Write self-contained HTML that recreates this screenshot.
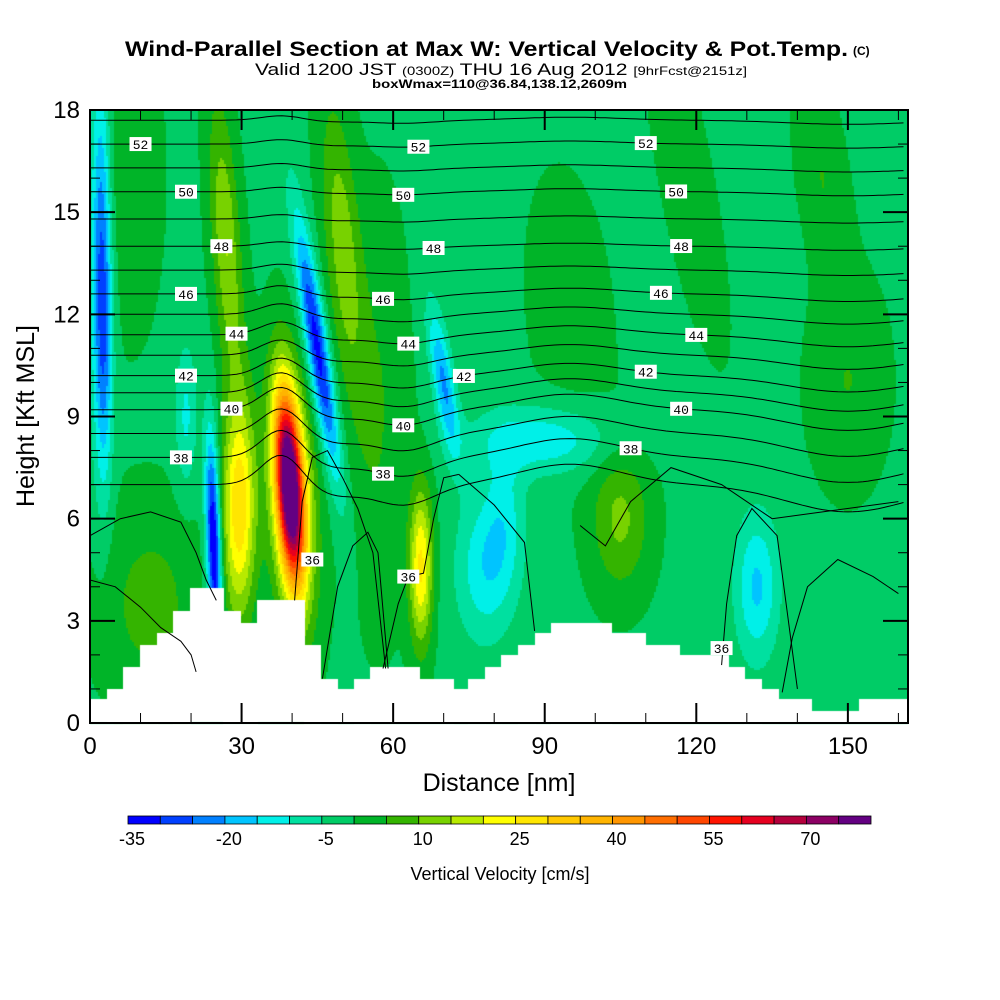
<!DOCTYPE html>
<html><head><meta charset="utf-8">
<style>
html,body{margin:0;padding:0;background:#fff;}
#wrap{position:relative;width:1000px;height:1000px;overflow:hidden;font-family:"Liberation Sans",sans-serif;}
canvas{position:absolute;left:0;top:0;}
svg{position:absolute;left:0;top:0;}
</style></head>
<body>
<div id="wrap">
<canvas id="field" width="1000" height="1000"></canvas>
<svg id="ov" width="1000" height="1000"></svg>
</div>
<script>
// ---- data ----
const levelBounds = [-35,-30,-25,-20,-15,-10,-5,0,5,10,15,20,25,30,35,40,45,50,55,60,65,70,75,80];
const levelColors = ["#0000ff","#0040ff","#0080ff","#00c4ff","#00f0e8","#00e0a0","#00cc66","#00b428","#34b400","#78d200","#b8ea00","#ffff00","#ffe600","#ffc800","#ffb400","#ff9600","#ff6e00","#ff4600","#ff1400","#e60020","#b4003c","#8c0064","#640082"];
const cbLabels = [-35,-20,-5,10,25,40,55,70];
const xTicks = [0,30,60,90,120,150];
const yTicks = [0,3,6,9,12,15,18];
const terrX = [0,3.3,6.6,9.9,13.2,16.5,19.8,26.4,29.7,33,42.3,45.6,48.9,52.2,55.5,65.2,71.8,74.8,78.1,81.4,84.7,88,91.3,103.2,109.8,116.5,126.2,129.5,132.8,136.1,142.7,152.2];
const terrH = [0.7,1.0,1.65,2.3,2.65,3.3,3.95,3.3,2.95,3.6,2.3,1.3,1.0,1.3,1.65,1.3,1.0,1.3,1.65,2.0,2.3,2.65,2.95,2.65,2.3,2.0,1.65,1.3,1.0,0.7,0.35,0.7];
const blobX   = [39.5,40,29.5,65.5,24.5,45,70,2,27,50,90,132,105,12,118,57,78,19,150,8,95,3,82,145];
const blobY   = [7.0,6.5,6.3,4.6,5.2,11,10,14,14,14,8.3,4,6,3.5,16,9,4.5,9,10,16,12,11,6,16];
const blobSX  = [1.8,3.2,2.3,1.6,1.0,1.5,1.5,1.3,2,2.5,10,3,4,7,3,4,4,1.5,5,4,6,1.2,3,3];
const blobSY  = [1.9,2.6,2.2,1.6,2.2,2.6,1.5,4,3,3,0.7,1.5,1.5,2,3,4,1.5,1.5,2,3,3,3,1.5,2];
const blobAmp = [75,25,30,27,-38,-32,-20,-20,16,14,-13,-15,12,8,6,6,-12,-10,6,5,3,-14,-9,6];
const blobTilt= [-0.4,-0.3,0,0,-0.2,-1.0,-1,0,-0.4,-0.5,0,0,0,0,-1.2,0,0,0,0,0,-0.5,0,0,-0.8];
const thetaLevels = [37,38,39,40,41,42,43,44,45,46,47,48,49,50,51,52,53];
const thetaH0     = [7.0,7.8,8.5,9.2,9.7,10.2,10.8,11.4,12.0,12.6,13.3,14.0,14.8,15.6,16.3,17.0,17.7];
const bumpX = [38,62,95,150,48];
const bumpW = [4,6,10,12,5];
const bumpA = [0.9,-0.6,0.6,-0.8,-0.3];
const c36aX=[0,5,10,14,18,20,21];    const c36aY=[4.2,4.0,3.4,2.8,2.4,2.0,1.5];
const c36bX=[0,6,12,18,21,23,25];    const c36bY=[5.5,6.0,6.2,5.9,5.0,4.2,3.6];
const c36cX=[40.5,42,44,47,50,53,56,58.5]; const c36cY=[3.6,6.5,7.8,8.0,7.2,6.3,5.0,1.6];
const c36dX=[46,49,52,55,57,59];     const c36dY=[1.3,4.0,5.2,5.6,5.0,1.6];
const c36eX=[58,61,63,66,68,70,73];  const c36eY=[1.6,3.5,4.3,4.4,6.0,7.2,7.3];
const c36fX=[73,80,86,88];           const c36fY=[7.3,6.4,5.3,2.7];
const c36gX=[97,102,107,115,125,135,145,160]; const c36gY=[5.8,5.2,6.5,7.5,7.0,6.0,6.2,6.5];
const c36hX=[125,126,128,131,136,140];const c36hY=[1.7,3.5,5.5,6.3,5.5,1.0];
const c36iX=[137,139,142,148,155,160];const c36iY=[0.9,2.5,4.0,4.8,4.3,3.8];
const labelLevels=[52,50,48,46,42,38,44,40,52,50,48,46,44,42,40,38,52,50,48,46,44,42,40,38];
const labelXs=[10,19,26,19,19,18,29,28,65,62,68,58,63,74,62,58,110,116,117,113,120,110,117,107];
// ---- scales ----
const PL=90,PR=908,PT=110,PB=723,XMAX=161.9,YMAX=18;
const sx=v=>PL+v/XMAX*(PR-PL);
const sy=v=>PB-v/YMAX*(PB-PT);
const ix=p=>(p-PL)/(PR-PL)*XMAX;
const iy=p=>(PB-p)/(PB-PT)*YMAX;
function colIdx(v){let i=Math.floor((v+35)/5);return Math.max(0,Math.min(levelColors.length-1,i));}
function field(x,y){let v=-1;for(let i=0;i<blobX.length;i++){const cx=blobX[i]+blobTilt[i]*(y-blobY[i]);const dx=(x-cx)/blobSX[i],dy=(y-blobY[i])/blobSY[i];v+=blobAmp[i]*Math.exp(-0.5*(dx*dx+dy*dy));}return v;}
const ctx=document.getElementById('field').getContext('2d');
const cs=2;
for(let px=PL;px<PR;px+=cs){for(let py=PT;py<PB;py+=cs){ctx.fillStyle=levelColors[colIdx(field(ix(px+1),iy(py+1)))];ctx.fillRect(px,py,cs,cs);}}
ctx.fillStyle="#fff";
for(let i=0;i<terrX.length;i++){const x0=sx(terrX[i]),x1=i+1<terrX.length?sx(terrX[i+1]):PR;const y0=sy(terrH[i]);ctx.fillRect(Math.round(x0),Math.round(y0),Math.round(x1)-Math.round(x0)+1,PB-y0);}
// ---- svg ----
const NS="http://www.w3.org/2000/svg";const svg=document.getElementById('ov');
function mk(t,a,p){const e=document.createElementNS(NS,t);for(const k in a)e.setAttribute(k,a[k]);(p||svg).appendChild(e);return e;}
function thetaH(k,x){const lv=thetaLevels[k];const f=Math.max(0.15,1.0-(lv-37)*0.08);let h=thetaH0[k];for(let j=0;j<bumpX.length;j++){const d=(x-bumpX[j])/bumpW[j];h+=f*bumpA[j]*Math.exp(-0.5*d*d);}return h;}
function terrAt(x){let h=0;for(let i=0;i<terrX.length;i++)if(x>=terrX[i])h=terrH[i];return h;}
const cg=mk('g',{});


for(let k=0;k<thetaLevels.length;k++){let pts=[];for(let x=0;x<=XMAX;x+=1){const h=thetaH(k,x);if(h<=YMAX&&h>terrAt(x))pts.push(sx(x).toFixed(1)+","+sy(h).toFixed(1));}
 const pl=mk('polyline',{points:pts.join(' '),fill:'none',stroke:'#000','stroke-width':1},cg);
 
 }
[[c36aX,c36aY],[c36bX,c36bY],[c36cX,c36cY],[c36dX,c36dY],[c36eX,c36eY],[c36fX,c36fY],[c36gX,c36gY],[c36hX,c36hY],[c36iX,c36iY]].forEach((c,i)=>{
 const pl=mk('polyline',{points:c[0].map((x,j)=>sx(x).toFixed(1)+","+sy(c[1][j]).toFixed(1)).join(' '),fill:'none',stroke:'#000','stroke-width':1},cg);
 
 });
for(let i=0;i<labelLevels.length;i++){const k=thetaLevels.indexOf(labelLevels[i]);const x=sx(labelXs[i]),y=sy(thetaH(k,labelXs[i]));
 const g=mk('g',{});
 
 
 mk('rect',{x:x-11,y:y-7,width:22,height:14,fill:'#fff'},g);
 const t=mk('text',{x:x,y:y+5,'text-anchor':'middle','font-size':13,'font-family':'Liberation Mono, monospace'},g);t.textContent=labelLevels[i];}
const l36X=[44,63,125],l36Y=[4.8,4.3,2.2];
for(let i=0;i<l36X.length;i++){const g=mk('g',{});
 
 
 mk('rect',{x:sx(l36X[i])-11,y:sy(l36Y[i])-7,width:22,height:14,fill:'#fff'},g);
 const t=mk('text',{x:sx(l36X[i]),y:sy(l36Y[i])+5,'text-anchor':'middle','font-size':13,'font-family':'Liberation Mono, monospace'},g);t.textContent='36';}
const fr=mk('rect',{x:PL,y:PT,width:PR-PL,height:PB-PT,fill:'none',stroke:'#000','stroke-width':2});

for(let v=0;v<=160;v+=10){const L=v%30==0?20:10;const x=sx(v);mk('line',{x1:x,x2:x,y1:PB,y2:PB-L,stroke:'#000','stroke-width':v%30==0?2:1});mk('line',{x1:x,x2:x,y1:PT,y2:PT+L,stroke:'#000','stroke-width':v%30==0?2:1});}
for(let v=0;v<=18;v+=1){const L=v%3==0?25:10;const y=sy(v);mk('line',{x1:PL,x2:PL+L,y1:y,y2:y,stroke:'#000','stroke-width':v%3==0?2:1});mk('line',{x1:PR,x2:PR-L,y1:y,y2:y,stroke:'#000','stroke-width':v%3==0?2:1});}
xTicks.forEach(v=>{const t=mk('text',{x:sx(v),y:PB+31,'text-anchor':'middle','font-size':24});t.textContent=v;
 });
yTicks.forEach(v=>{const t=mk('text',{x:PL-10,y:sy(v)+8,'text-anchor':'end','font-size':24});t.textContent=v;
 });
let t=mk('text',{x:499,y:791,'text-anchor':'middle','font-size':25});t.textContent='Distance [nm]';

t=mk('text',{x:0,y:0,'text-anchor':'middle','font-size':25,transform:'translate(34,416) rotate(-90)'});t.textContent='Height [Kft MSL]';

t=mk('text',{x:125,y:56,'font-size':21,'font-weight':'bold',textLength:723,lengthAdjust:'spacingAndGlyphs'});t.textContent='Wind-Parallel Section at Max W: Vertical Velocity & Pot.Temp.';

t=mk('text',{x:853,y:55,'font-size':12,'font-weight':'bold'});t.textContent='(C)';

t=mk('text',{x:255,y:75,'font-size':17,textLength:492,lengthAdjust:'spacingAndGlyphs'});
t.innerHTML='Valid 1200 JST <tspan font-size="12">(0300Z)</tspan> THU 16 Aug 2012 <tspan font-size="12">[9hrFcst@2151z]</tspan>';

t=mk('text',{x:372,y:88,'font-size':12,'font-weight':'bold',textLength:255,lengthAdjust:'spacingAndGlyphs'});t.textContent='boxWmax=110@36.84,138.12,2609m';

const CBL=128,CBR=871,CBT=816,CBH=8,bw=(CBR-CBL)/levelColors.length;
const cb=mk('g',{});
levelColors.forEach((c,i)=>{const r=mk('rect',{x:CBL+i*bw,y:CBT,width:bw,height:CBH,fill:c,stroke:'#000','stroke-width':0.8},cb);
 });
cbLabels.forEach(v=>{const i=levelBounds.indexOf(v);const tt=mk('text',{x:CBL+i*bw+4,y:845,'text-anchor':'middle','font-size':18},cb);tt.textContent=v;
 });
t=mk('text',{x:500,y:880,'text-anchor':'middle','font-size':18});t.textContent='Vertical Velocity [cm/s]';

</script>
</body></html>
